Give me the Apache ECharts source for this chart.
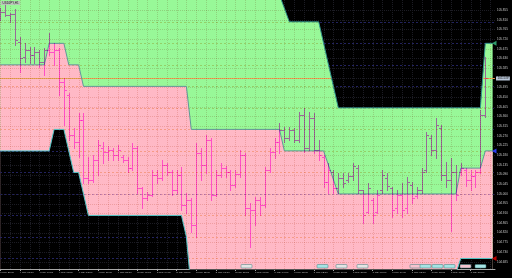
<!DOCTYPE html>
<html><head><meta charset="utf-8">
<script src="https://cdn.jsdelivr.net/npm/echarts@6/dist/echarts.min.js"></script>
<style>html,body{margin:0;padding:0;background:#000;}#c{width:512px;height:278px;}</style>
</head><body><div id="c"></div>
<script>
// ---------------- data ----------------
const timeLabels = ['1 May 20:00','4 May 00:00','4 May 04:00','4 May 08:00','4 May 12:00','4 May 16:00','4 May 20:00',
  '5 May 00:00','5 May 04:00','5 May 08:00','5 May 12:00','5 May 16:00','5 May 20:00',
  '6 May 00:00','6 May 04:00','6 May 08:00','6 May 12:00','6 May 16:00','6 May 20:00',
  '7 May 00:00','7 May 04:00','7 May 08:00','7 May 12:00','7 May 16:00','7 May 20:00'];
const priceTicks = [105.855,105.810,105.765,105.720,105.675,105.630,105.585,105.540,105.495,105.450,105.405,105.360,
  105.315,105.270,105.225,105.180,105.135,105.090,105.045,105.000,104.955,104.910,104.865,104.820,104.775,104.730,104.685];
const barOpen = [105.822,105.846,105.832,105.836,105.706,105.636,105.669,105.646,105.660,105.613,
  105.669,105.660,105.669,105.520,105.460,105.274,105.241,105.344,105.074,105.065,
  105.158,105.213,105.195,105.204,105.181,105.172,105.158,105.121,105.213,105.028,
  104.981,104.995,105.088,105.074,105.134,105.102,105.018,105.088,104.948,104.972,
  104.856,105.190,105.134,105.251,104.995,105.088,105.121,105.102,105.041,105.093,
  105.181,104.935,104.925,104.972,104.948,105.111,105.195,105.241,105.297,105.260,
  105.297,105.251,105.367,105.213,105.353,105.204,105.172,105.055,105.102,105.028,
  105.074,105.065,105.083,105.121,105.018,104.916,104.972,104.916,105.018,105.074,
  105.028,104.935,104.995,104.935,105.041,104.990,105.018,105.111,105.260,105.204,
  105.306,105.088,105.065,105.102,105.102,105.111,105.065,105.083,105.102,105.367];
const barHigh = [105.864,105.888,105.841,105.860,105.729,105.702,105.683,105.683,105.669,105.678,
  105.748,105.702,105.678,105.539,105.469,105.306,105.376,105.376,105.172,105.181,
  105.251,105.241,105.223,105.213,105.227,105.181,105.172,105.237,105.223,105.032,
  105.009,105.111,105.111,105.158,105.144,105.111,105.111,105.125,105.004,104.981,
  105.237,105.213,105.274,105.260,105.111,105.144,105.130,105.111,105.111,105.204,
  105.190,104.958,104.986,104.986,105.125,105.213,105.260,105.330,105.311,105.311,
  105.306,105.381,105.399,105.381,105.376,105.251,105.181,105.144,105.111,105.097,
  105.097,105.097,105.144,105.134,105.018,105.051,104.981,105.018,105.111,105.097,
  105.032,105.018,105.051,105.079,105.055,105.032,105.121,105.288,105.274,105.353,
  105.320,105.148,105.167,105.134,105.144,105.121,105.111,105.111,105.390,105.636];
const barLow = [105.809,105.827,105.799,105.692,105.567,105.613,105.609,105.609,105.590,105.553,
  105.646,105.599,105.460,105.320,105.251,105.213,105.172,105.051,105.051,105.055,
  105.088,105.144,105.158,105.158,105.158,105.148,105.102,105.111,105.004,104.935,
  104.972,104.990,105.051,105.065,105.088,104.995,105.004,104.925,104.911,104.823,
  104.800,105.065,105.097,104.972,104.990,105.079,105.079,105.018,105.032,105.079,
  104.902,104.753,104.856,104.902,104.939,105.102,105.167,105.190,105.241,105.251,
  105.241,105.241,105.195,105.204,105.190,105.158,105.032,105.004,105.004,105.004,
  105.032,105.055,105.065,105.004,104.865,104.911,104.865,104.911,105.004,105.018,
  104.893,104.911,104.893,104.911,104.958,104.981,105.004,105.102,105.181,105.167,
  105.065,105.032,104.828,104.972,105.088,105.037,105.018,105.032,105.097,105.358];
const barClose = [105.846,105.832,105.836,105.716,105.632,105.669,105.646,105.660,105.613,105.669,
  105.660,105.669,105.520,105.483,105.274,105.241,105.344,105.074,105.065,105.158,
  105.227,105.195,105.204,105.181,105.204,105.158,105.121,105.213,105.028,104.981,
  104.995,105.088,105.074,105.134,105.102,105.018,105.088,104.948,104.972,104.856,
  105.190,105.134,105.251,104.995,105.088,105.121,105.102,105.041,105.093,105.181,
  104.935,104.925,104.972,104.948,105.111,105.195,105.241,105.297,105.260,105.297,
  105.251,105.367,105.213,105.353,105.204,105.181,105.055,105.111,105.028,105.074,
  105.051,105.083,105.130,105.018,104.902,105.028,104.902,104.995,105.088,105.037,
  104.925,104.995,104.925,105.055,104.981,105.018,105.102,105.274,105.204,105.320,
  105.088,105.065,105.102,104.995,105.121,105.065,105.083,105.102,105.367,105.539];
// band breakpoints [bar index, price]
const upperBand = [[0,105.925],[57,105.925],[59,105.8],[65,105.8],[69,105.4],[98,105.4],[99,105.7],[100.5,105.7]];
const middleBand = [[0,105.6],[9,105.6],[10,105.7],[13,105.7],[14,105.6],[16,105.6],[17,105.5],[38,105.5],[39,105.3],
  [57,105.3],[58,105.2],[66,105.2],[69,105.0],[93,105.0],[94,105.12],[98,105.12],[99,105.2],[100.5,105.2]];
const lowerBand = [[0,105.2],[10,105.2],[11,105.3],[13,105.3],[15,105.1],[16,105.1],[18,104.9],[37,104.9],[38,104.8],
  [39,104.55],[92,104.55],[93,104.63],[94,104.7],[100.5,104.7]];
const roundLevels = [104.7,104.8,104.9,105.0,105.1,105.2,105.3,105.4,105.5,105.6,105.7,105.8];
const majorLevel = 105.0;
const eventBars = [50.2,65.7,69.7,74,84.7,86.8,89.2,91.7,94.9,98.1];
const eventKinds = ['gray','teal','gray','gray','pink','teal','teal','teal','pink','teal'];

// ---------------- view config ----------------
const X_MIN = -0.04, X_MAX = 100.98, Y_MIN = 104.651, Y_MAX = 105.9015;
const GREEN = '#98f898', PINK = '#ffb9c6';
const BAR_COLOR = '#ff6eff';
const FONT = 'Liberation Sans';
const eventColor = {gray:'#e4e4e4', teal:'#a6e4e4', pink:'#f6c4cf'};

const labelBars = timeLabels.map((t, i) => i * 4);
const gridBars = [];
for (let b = 0; b <= 100; b += 2) gridBars.push(b);
const lastClose = barClose[barClose.length - 1];

function band(data, color, lineColor, origin, lineW) {
  return {type:'line', data: data, symbol:'none', silent:true, z:1,
    lineStyle:{color: lineColor, width: lineW},
    areaStyle:{color: color, opacity: 1, origin: origin}};
}
function hLines(color, dash, majorColor) {
  return function (params, api) {
    const cs = params.coordSys;
    const v = api.value(1);
    const y = Math.round(api.coord([0, v])[1]) + 0.5;
    return {type:'line', shape:{x1:cs.x, y1:y, x2:cs.x + cs.width, y2:y},
      style:{stroke: (majorColor && Math.abs(v - majorLevel) < 1e-6) ? majorColor : color, lineWidth:1, lineDash:dash}};
  };
}
function vLines(color, dash) {
  return function (params, api) {
    const cs = params.coordSys;
    const x = Math.round(api.coord([api.value(0), Y_MIN])[0]) + 0.5;
    return {type:'line', shape:{x1:x, y1:cs.y, x2:x, y2:cs.y + cs.height},
      style:{stroke:color, lineWidth:1, lineDash:dash}};
  };
}
function custom(data, renderItem, extra) {
  return Object.assign({type:'custom', data: data, renderItem: renderItem, silent:true, z:1,
    encode:{x:0, y:1}}, extra || {});
}
function barItem(params, api) {
  const k = api.value(0);
  const pO = api.coord([k, api.value(1)]);
  const pH = api.coord([k, api.value(2)]);
  const pL = api.coord([k, api.value(3)]);
  const pC = api.coord([k, api.value(4)]);
  const xc = Math.round(pH[0]);
  const yH = Math.round(pH[1]), yL = Math.round(pL[1]);
  const yO = Math.round(pO[1]) + 0.5, yC = Math.round(pC[1]) + 0.5;
  return {type:'group', children:[
    {type:'line', shape:{x1:xc + 0.5, y1:yH, x2:xc + 0.5, y2:yL + 1}, style:{stroke:BAR_COLOR, lineWidth:1}},
    {type:'line', shape:{x1:xc - 2, y1:yO, x2:xc, y2:yO}, style:{stroke:BAR_COLOR, lineWidth:1}},
    {type:'line', shape:{x1:xc + 1, y1:yC, x2:xc + 3, y2:yC}, style:{stroke:BAR_COLOR, lineWidth:1}}
  ]};
}
function priceLineItem(params, api) {
  const cs = params.coordSys;
  const y = Math.round(api.coord([0, api.value(1)])[1]) + 0.5;
  return {type:'line', shape:{x1:cs.x, y1:y, x2:cs.x + cs.width, y2:y}, style:{stroke:'#e9a85a', lineWidth:1}};
}
function priceLabelItem(params, api) {
  const cs = params.coordSys;
  const v = api.value(1);
  const y = Math.round(api.coord([0, v])[1]);
  return {type:'text', x: cs.x + cs.width + 1, y: y + 0.5,
    style:{text: v.toFixed(3), fill:'#101010', font:'3px ' + FONT, align:'left', verticalAlign:'middle',
      backgroundColor:'#b9c7d9', padding:[0.5, 1.5]}};
}
const markerColors = ['#2f9a6a', '#2a3cf0', '#c00000'];
function markerItem(params, api) {
  const cs = params.coordSys;
  const y = api.coord([0, api.value(1)])[1];
  const xe = cs.x + cs.width;
  return {type:'polygon', shape:{points:[[xe - 3, y], [xe + 1.5, y - 2.5], [xe + 1.5, y + 2.5]]},
    style:{fill: markerColors[params.dataIndex]}};
}
function eventItem(params, api) {
  const cs = params.coordSys;
  const x = api.coord([api.value(0), Y_MIN])[0];
  const yb = cs.y + cs.height;
  return {type:'rect', shape:{x: Math.round(x - 5.5), y: yb - 4.5, width: 11, height: 3.5, r: 0.8},
    style:{fill: eventColor[eventKinds[params.dataIndex]], stroke:'#3f7f7f', lineWidth:0.5}};
}

const chart = echarts.init(document.getElementById('c'), null, {renderer:'canvas', width:512, height:278});
chart.setOption({
  animation:false,
  backgroundColor:'#000000',
  title:{text:'USDJPY,H1', left:1, top:1, padding:[0.5,1.5], backgroundColor:'rgba(190,190,190,0.85)',
    textStyle:{fontSize:3, color:'#202020', fontWeight:'normal', fontFamily:FONT}},
  grid:{left:0, right:17, top:0, bottom:9, containLabel:false, outerBoundsMode:'none'},
  xAxis:{type:'value', min:X_MIN, max:X_MAX,
    axisLine:{show:true, onZero:false, lineStyle:{color:'#a8a8a8', width:1}},
    axisTick:{show:true, customValues:labelBars, length:2, lineStyle:{color:'#a8a8a8'}},
    axisLabel:{show:true, customValues:labelBars, formatter:(v) => timeLabels[Math.round(v / 4)] || '',
      align:'left', margin:2, fontSize:2.5, color:'#c4c4c4', fontFamily:FONT},
    splitLine:{show:false}},
  yAxis:{type:'value', position:'right', min:Y_MIN, max:Y_MAX,
    axisLine:{show:true, lineStyle:{color:'#a8a8a8', width:1}},
    axisTick:{show:true, customValues:priceTicks, length:2, lineStyle:{color:'#a8a8a8'}},
    axisLabel:{show:true, customValues:priceTicks, formatter:(v) => v.toFixed(3),
      margin:2, fontSize:3, color:'#c8c8c8', fontFamily:FONT},
    splitLine:{show:false}},
  series:[
    band(upperBand, GREEN, 'rgba(0,0,0,0)', 'start', 0),
    band(middleBand, PINK, '#5f9898', 'start', 1),
    band(lowerBand, '#000000', '#52c6c6', 'start', 1),
    custom([[0, lastClose]], priceLineItem),
    band(upperBand, '#000000', '#389c90', 'end', 1),
    custom(roundLevels.map(v => [0, v]), hLines('#f6d6ae', [2, 2], '#c4b4ea'), {blendMode:'multiply'}),
    custom(roundLevels.map(v => [0, v]), hLines('#22225e', [2, 2]), {blendMode:'lighten'}),
    custom(priceTicks.map(v => [0, v]), hLines('#efd8d0', [1, 1]), {blendMode:'multiply'}),
    custom(gridBars.map(b => [b, Y_MIN]), vLines('#efd8d0', [1, 1]), {blendMode:'multiply'}),
    custom(priceTicks.map(v => [0, v]), hLines('#1c1c24', [1, 1]), {blendMode:'lighten'}),
    custom(gridBars.map(b => [b, Y_MIN]), vLines('#1c1c24', [1, 1]), {blendMode:'lighten'}),
    custom(barOpen.map((o, i) => [i, o, barHigh[i], barLow[i], barClose[i]]), barItem,
      {blendMode:'multiply', clip:true, z:2, encode:{x:0, y:[1,2,3,4]}}),
    custom(eventBars.map(b => [b, Y_MIN]), eventItem, {z:3}),
    custom([[X_MAX, upperBand[upperBand.length-1][1]], [X_MAX, middleBand[middleBand.length-1][1]],
      [X_MAX, lowerBand[lowerBand.length-1][1]]], markerItem, {z:3}),
    custom([[0, lastClose]], priceLabelItem, {z:4})
  ]
});
</script>
</body></html>
